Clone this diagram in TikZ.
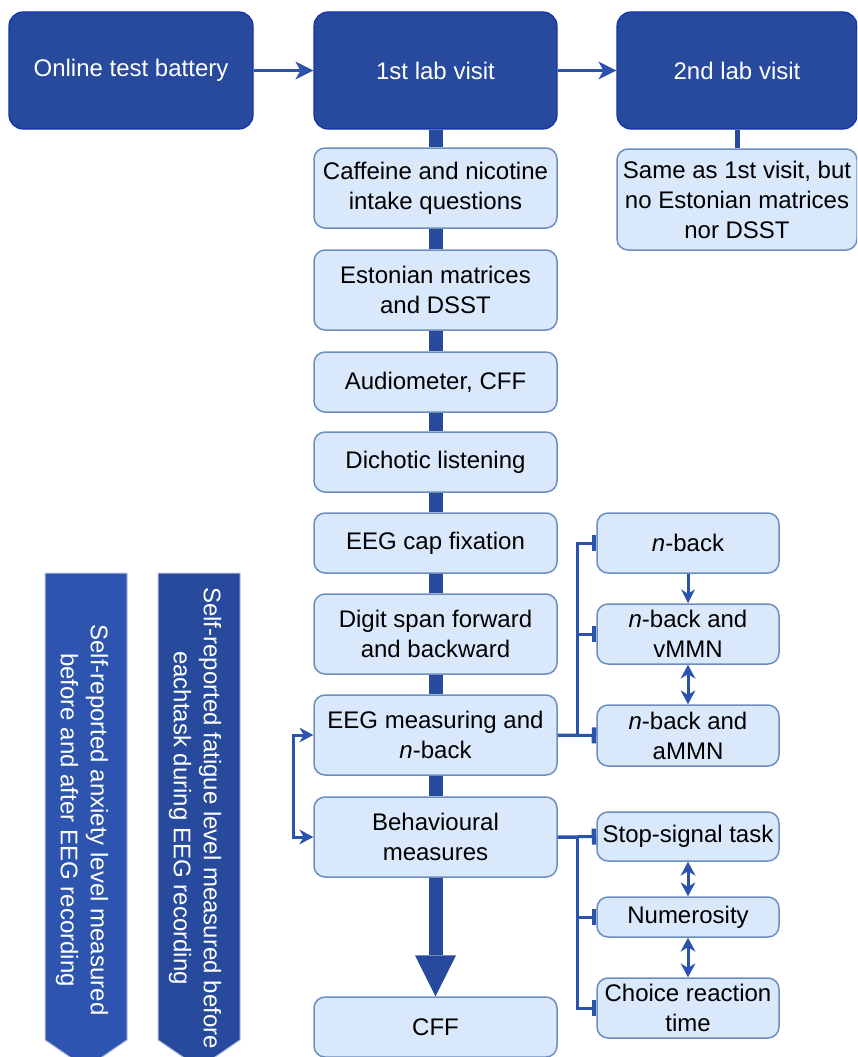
\documentclass[tikz,border=0pt]{standalone}
\usepackage{fontspec}
\setmainfont{Liberation Sans}
\usetikzlibrary{arrows.meta}
\definecolor{visitblue}{HTML}{284A9C}
\definecolor{visitline}{HTML}{1230B0}
\definecolor{taskfill}{HTML}{DAE8FC}
\definecolor{taskline}{HTML}{6C8EBF}
\definecolor{linkblue}{HTML}{2B52AD}
\definecolor{bannerlight}{HTML}{2D55B0}
\definecolor{bannerline}{HTML}{B4C2E0}
\begin{document}
\begin{tikzpicture}[x=1pt, y=-1pt,
	font=\fontsize{24}{30}\selectfont,
	visit/.style={draw=visitline, line width=1.2pt, fill=visitblue, text=white, rounded corners=14pt, minimum width=243pt, minimum height=117pt, inner sep=0pt},
	task/.style={draw=taskline, line width=1.5pt, fill=taskfill, rounded corners=11pt, minimum width=243pt, align=center, inner sep=0pt},
	subtask/.style={task, minimum width=182pt},
	spine/.style={draw=visitblue, line width=14pt},
	link/.style={draw=linkblue, line width=3pt},
	headed/.style={link, -{Stealth[length=14pt, width=14pt, line width=0pt]}},
	twohead/.style={link, {Stealth[length=14pt, width=15pt, line width=0pt]}-{Stealth[length=14pt, width=15pt, line width=0pt]}},
	branch/.style={link, -{Bar[width=16pt, line width=4.5pt]}},
	banner/.style={draw=bannerline, line width=1pt},
	bannertext/.style={text=white, rotate=-90, align=center}]
	\useasboundingbox (0, 0) rectangle (857, 1057);
	\clip (0, 0) rectangle (857, 1057);

	% visits
	\node[visit, minimum width=244pt] (online) at (131, 70.5) {Online test battery};
	\node[visit] (lab1) at (435.5, 70.5) {1st lab visit};
	\node[visit, minimum width=240pt] (lab2) at (737, 70.5) {2nd lab visit};
	\node[task, minimum width=240pt, minimum height=101pt] (same) at (737, 199.5) {Same as 1st visit, but\\no Estonian matrices\\nor DSST};

	% 1st visit steps
	\node[task, minimum height=80pt] (caff) at (435.5, 188) {Caffeine and nicotine\\intake questions};
	\node[task, minimum height=80pt] (eston) at (435.5, 290) {Estonian matrices\\and DSST};
	\node[task, minimum height=60pt] (audio) at (435.5, 382) {Audiometer, CFF};
	\node[task, minimum height=60pt] (dich) at (435.5, 462) {Dichotic listening};
	\node[task, minimum height=60pt] (cap) at (435.5, 543) {EEG cap fixation};
	\node[task, minimum height=80pt] (digit) at (435.5, 634) {Digit span forward\\and backward};
	\node[task, minimum height=80pt] (eeg) at (435.5, 735) {EEG measuring and\\\textit{n}-back};
	\node[task, minimum height=80pt] (behav) at (435.5, 837) {Behavioural\\measures};
	\node[task, minimum height=60pt] (cff) at (435.5, 1027) {CFF};

	% EEG tasks
	\node[subtask, minimum height=60pt] (nback) at (688, 543) {\textit{n}-back};
	\node[subtask, minimum height=60pt] (vmmn) at (688, 634) {\textit{n}-back and\\vMMN};
	\node[subtask, minimum height=61pt] (ammn) at (688, 735.5) {\textit{n}-back and\\aMMN};

	% behavioural tasks
	\node[subtask, minimum height=49pt] (stop) at (688, 836.5) {Stop-signal task};
	\node[subtask, minimum height=40pt] (numer) at (688, 917) {Numerosity};
	\node[subtask, minimum height=60pt] (choice) at (688, 1008) {Choice reaction\\time};

	% self-report banners
	\draw[banner, fill=bannerlight] (45, 573) -- (127, 573) -- (127, 1040) -- (86, 1068) -- (45, 1040) -- cycle;
	\draw[banner, fill=visitblue] (158, 573) -- (240, 573) -- (240, 1040) -- (199, 1068) -- (158, 1040) -- cycle;
	\node[bannertext] (anxiety) at (82, 820) {Self-reported anxiety level measured\\before and after EEG recording};
	\node[bannertext] (fatigue) at (195, 818) {Self-reported fatigue level measured before\\eachtask during EEG recording};

	% visit order
	\draw[link, -{Stealth[length=18pt, width=18pt, inset=5pt, line width=0pt]}] (online) -- (lab1);
	\draw[link, -{Stealth[length=18pt, width=18pt, inset=5pt, line width=0pt]}] (lab1) -- (lab2);
	\draw[draw=visitblue, line width=5pt] (lab2) -- (same);

	% main sequence
	\draw[spine] (lab1) -- (caff);
	\draw[spine] (caff) -- (eston);
	\draw[spine] (eston) -- (audio);
	\draw[spine] (audio) -- (dich);
	\draw[spine] (dich) -- (cap);
	\draw[spine] (cap) -- (digit);
	\draw[spine] (digit) -- (eeg);
	\draw[spine] (eeg) -- (behav);
	\draw[spine, -{Triangle[width=41pt, length=41pt, line width=0pt]}] (behav) -- (cff);

	% order of EEG and behavioural parts
	\draw[twohead] (eeg.west) -- ++(-20, 0) |- (behav.west);

	% EEG branches
	\draw[branch] (eeg.east) -- (ammn.west);
	\draw[branch] (eeg.east) -- ++(20, 0) |- (vmmn.west);
	\draw[branch] (eeg.east) -- ++(20, 0) |- (nback.west);
	\draw[headed] (nback) -- (vmmn);
	\draw[twohead] (vmmn) -- (ammn);

	% behavioural branches
	\draw[branch] (behav.east) -- (stop.west);
	\draw[branch] (behav.east) -- ++(20, 0) |- (numer.west);
	\draw[branch] (behav.east) -- ++(20, 0) |- (choice.west);
	\draw[twohead] (stop) -- (numer);
	\draw[twohead] (numer) -- (choice);
\end{tikzpicture}
\end{document}
